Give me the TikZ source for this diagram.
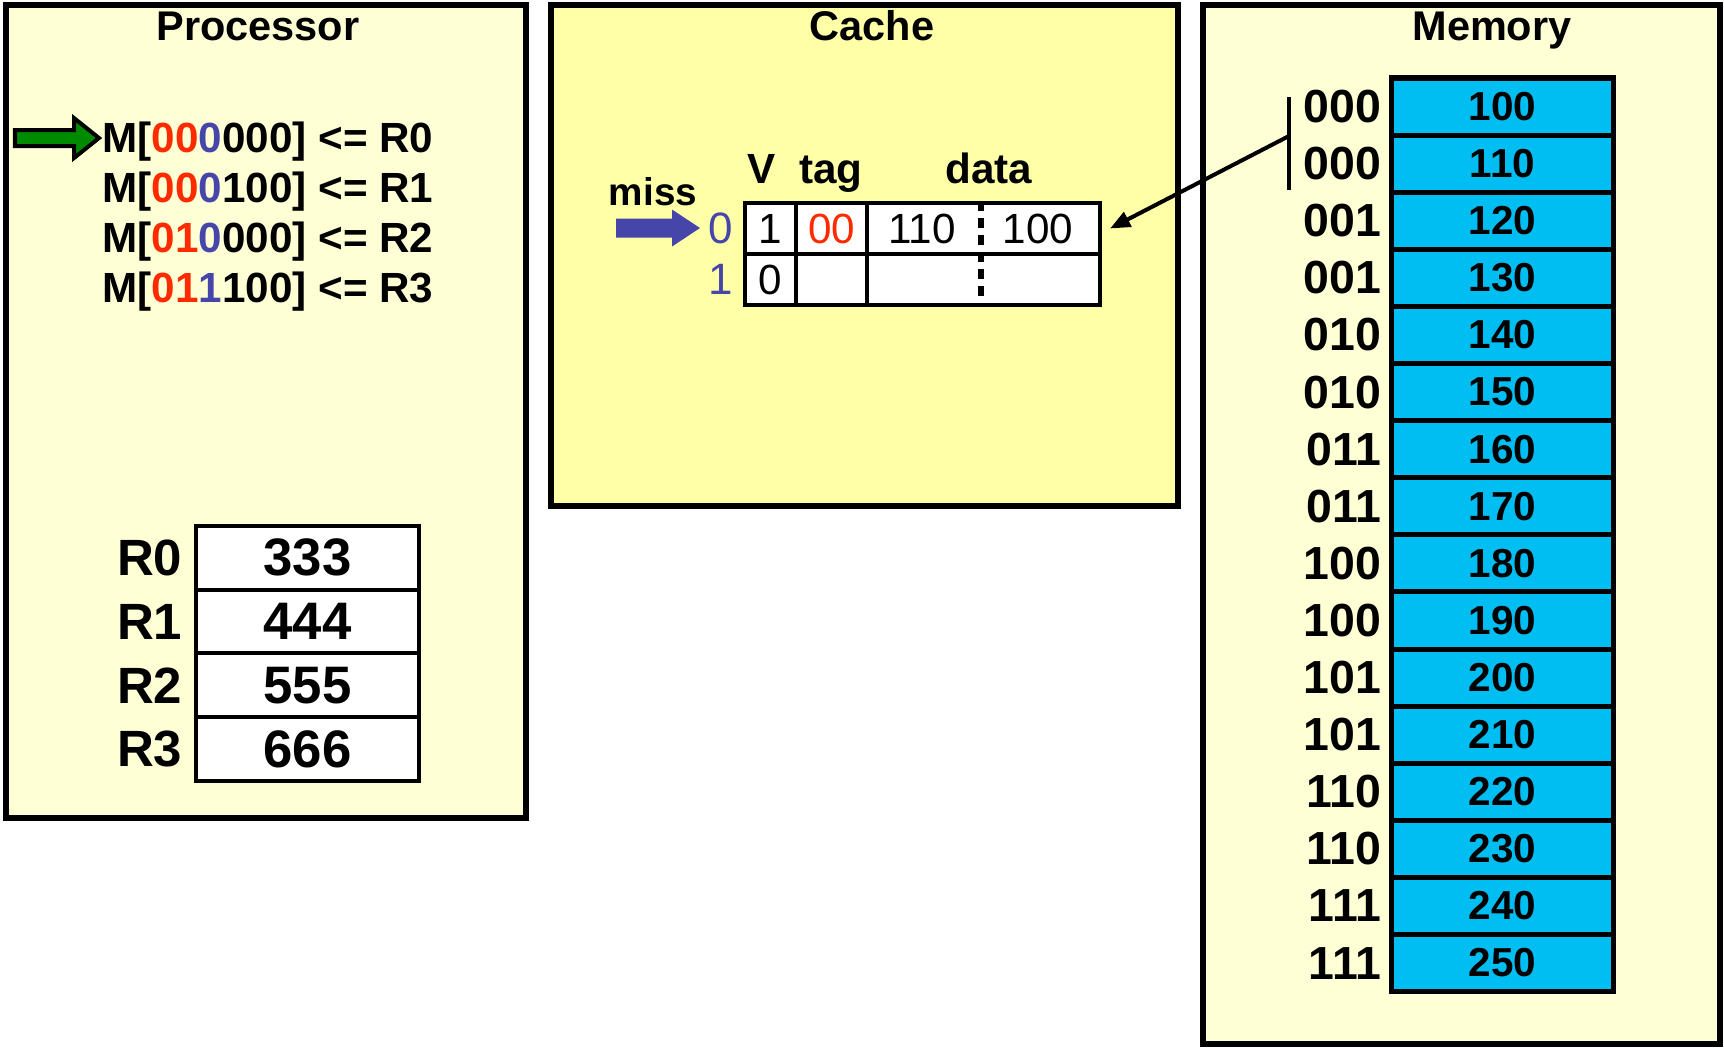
\documentclass[tikz,border=0pt]{standalone}
\usepackage{fontspec}
\setmainfont{Liberation Sans}
\usetikzlibrary{positioning,arrows.meta}

\definecolor{procbg}{HTML}{FFFFD6}
\definecolor{cachebg}{HTML}{FFFFA8}
\definecolor{memcyan}{HTML}{00BEF2}
\definecolor{tagred}{HTML}{FF2A00}
\definecolor{idxblue}{HTML}{4646AA}
\definecolor{ptrgreen}{HTML}{008A00}

\newcommand{\tg}[1]{\textcolor{tagred}{#1}}
\newcommand{\ix}[1]{\textcolor{idxblue}{#1}}

\tikzset{
  unitbox/.style={draw=black, line width=0.06cm},
  ttl/.style={font=\bfseries\fontsize{11.8}{14}\selectfont, anchor=base, inner sep=0pt},
  instr/.style={font=\bfseries\fontsize{12}{14}\selectfont, anchor=base west, inner sep=0pt},
  regcell/.style={draw, line width=0.04cm, fill=white, minimum width=2.23cm,
    minimum height=0.637cm, inner sep=0pt, font=\bfseries\fontsize{15}{17}\selectfont},
  reglbl/.style={inner sep=0pt, font=\bfseries\fontsize{14.5}{16}\selectfont},
  cell/.style={draw, line width=0.04cm, fill=white, minimum height=0.51cm,
    inner sep=0pt, font=\fontsize{12}{14}\selectfont},
  celltxt/.style={inner sep=0pt, font=\fontsize{12}{14}\selectfont},
  hdr/.style={anchor=base, inner sep=0pt, font=\bfseries\fontsize{12}{14}\selectfont},
  rowidx/.style={inner sep=0pt, text=idxblue, font=\fontsize{12.5}{14}\selectfont},
  memcell/.style={draw, line width=0.05cm, fill=memcyan, minimum width=2.22cm,
    minimum height=0.571cm, inner sep=0pt, font=\bfseries\fontsize{11.5}{14}\selectfont},
  addr/.style={inner sep=0pt, font=\bfseries\fontsize{13.2}{15}\selectfont}
}

\begin{document}
\begin{tikzpicture}[x=0.01cm,y=-0.01cm]
\useasboundingbox (0,0) rectangle (1724,1047);
% the three units
\draw[unitbox, fill=procbg] (6,5) rectangle (526,818);
\draw[unitbox, fill=cachebg] (551,5) rectangle (1178,506);
\draw[unitbox, fill=procbg] (1203,5) rectangle (1720,1044);
\node[ttl] (proct) at (258,40) {Processor};
\node[ttl] (cacht) at (872,40) {Cache};
\node[ttl] (memt) at (1492,40) {Memory};

% instruction list
\node[instr] (ins0) at (102,152) {M[\tg{00}\ix{0}000] <= R0};
\node[instr] (ins1) at (102,202) {M[\tg{00}\ix{0}100] <= R1};
\node[instr] (ins2) at (102,252) {M[\tg{01}\ix{0}000] <= R2};
\node[instr] (ins3) at (102,302) {M[\tg{01}\ix{1}100] <= R3};

% current instruction pointer
\coordinate (gtail) at (15,138);
\filldraw[fill=ptrgreen, draw=black, line width=0.04cm]
  (gtail) ++(0,-8) -- ++(59,0) -- ++(0,-12) -- (99,138) -- (74,158)
  -- (74,146) -- (15,146) -- cycle;

% registers
\foreach \r/\v [count=\i from 0] in {R0/333,R1/444,R2/555,R3/666} {
  \node[regcell] (reg\i) at (307.5, {557.85+63.7*\i}) {\v};
  \node[reglbl, left=0.11cm of reg\i] (rl\i) {\r};
}

% cache lines
\node[hdr] (hv) at (762,183) {V};
\node[hdr] (ht) at (831,183) {tag};
\node[hdr] (hd) at (989,183) {data};
\node[hdr, font=\bfseries\fontsize{11}{13}\selectfont] (miss) at (653,205) {miss};

\node[cell, minimum width=0.51cm] (v0) at (770.5,228.5) {1};
\node[cell, minimum width=0.71cm, text=tagred] (t0) at (831.5,228.5) {00};
\node[cell, minimum width=2.33cm] (d0) at (983.5,228.5) {};
\node[cell, minimum width=0.51cm] (v1) at (770.5,279.5) {0};
\node[cell, minimum width=0.71cm] (t1) at (831.5,279.5) {};
\node[cell, minimum width=2.33cm] (d1) at (983.5,279.5) {};
\node[celltxt] (d0a) at (922,228.5) {110};
\node[celltxt] (d0b) at (1038,228.5) {100};
\coordinate (dsplit) at (981,0);
\draw[line width=0.055cm, dash pattern=on 0.1cm off 0.07cm]
  (d0.north -| dsplit) -- (d1.south -| dsplit);

\node[rowidx] (ix0) at (721,228.5) {0};
\node[rowidx] (ix1) at (721,279.5) {1};

% index pointer
\coordinate (btail) at (616,228);
\fill[idxblue] (btail) ++(0,-9.5) -- ++(56,0) -- ++(0,-9) -- (700,228)
  -- (672,246.5) -- (672,237.5) -- (616,237.5) -- cycle;

% memory blocks
\foreach \a [count=\i from 0] in {000,000,001,001,010,010,011,011,100,100,101,101,110,110,111,111} {
  \pgfmathtruncatemacro\d{100+10*\i}
  \node[memcell] (m\i) at (1502.5, {78+57.1*\i+28.55}) {\d};
  \node[addr, left=0.07cm of m\i] (a\i) {\a};
}

% block fetched into the cache
\coordinate (brtop) at (1289,97);
\coordinate (brbot) at (1289,190);
\coordinate (brmid) at (1289,136);
\draw[line width=0.045cm] (brtop) -- (brbot);
\draw[line width=0.04cm, -{Triangle[length=0.2cm,width=0.16cm]}]
  (brmid) -- ([xshift=0.08cm]d0.east);
\end{tikzpicture}
\end{document}
